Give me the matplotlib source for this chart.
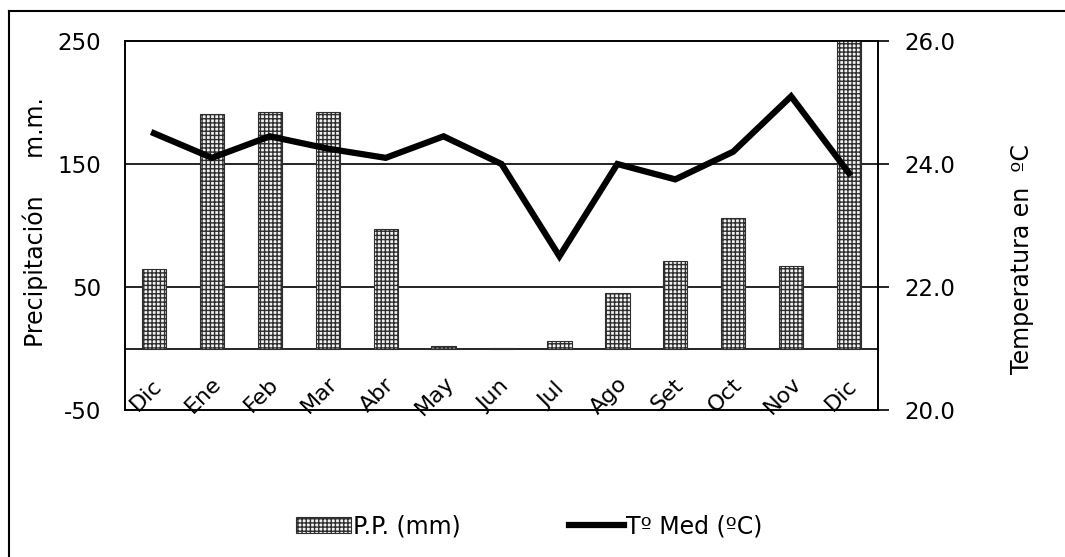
import matplotlib.pyplot as plt
from matplotlib.lines import Line2D
import numpy as np

# Monthly data
months = ['Dic', 'Ene', 'Feb', 'Mar', 'Abr', 'May', 'Jun',
          'Jul', 'Ago', 'Set', 'Oct', 'Nov', 'Dic']
precip = [65, 191, 192, 192, 97, 2, 0.5, 6, 45, 71, 106, 67, 255]
temp = [24.5, 24.1, 24.45, 24.25, 24.1, 24.45, 24.0,
        22.5, 24.0, 23.75, 24.2, 25.1, 23.85]

plt.rcParams['font.family'] = ['DejaVu Sans']
plt.rcParams['axes.unicode_minus'] = False
plt.rcParams['hatch.linewidth'] = 1.0

fig = plt.figure(figsize=(10.65, 5.57), dpi=100)
ax = fig.add_axes([0.1174, 0.2639, 0.7070, 0.6625])
ax2 = ax.twinx()

x = np.arange(len(months))

# Bars (precipitation) on the left axis
ax.bar(x, precip, width=0.42, color='#f2f2f2', edgecolor='#2e2e2e',
       hatch='++++', linewidth=0.8, zorder=3, label='P.P. (mm)')
ax.set_ylim(-50, 250)
ax.set_xlim(-0.5, len(months) - 0.5)
ax.set_yticks([250, 150, 50, -50])
ax.tick_params(axis='y', length=0, labelsize=16.5, pad=17)
ax.set_xticks([])
for v in [150, 50, 0]:
    ax.axhline(v, color='black', linewidth=1.2, zorder=2)
for s in ax.spines.values():
    s.set_linewidth(1.2)

# Month labels inside the plot area, under the zero line
for i, m in enumerate(months):
    ax.text(i - 0.14, -38, m, rotation=45, ha='center', va='center',
            fontsize=16, zorder=5)

# Temperature line on the right axis
ax2.plot(x, temp, color='black', linewidth=4.5, solid_joinstyle='miter',
         zorder=4, label='Tº Med (ºC)')
ax2.set_ylim(20, 26)
ax2.set_yticks([26, 24, 22, 20])
ax2.set_yticklabels(['26.0', '24.0', '22.0', '20.0'])
ax2.tick_params(axis='y', direction='out', length=8, width=1.2,
                labelsize=16.5, pad=11)
for s in ax2.spines.values():
    s.set_linewidth(1.2)

# Axis titles
fig.text(35 / 1065, 1 - 222 / 557, 'Precipitación     m.m.', fontsize=17,
         rotation=90, ha='center', va='center')
fig.text(1022 / 1065, 1 - 259 / 557, 'Temperatura en  ºC', fontsize=17,
         rotation=90, ha='center', va='center')

# Legend under the chart
handles = [ax.patches[0], ax2.lines[0]]
labels = ['P.P. (mm)', 'Tº Med (ºC)']
fig.legend(handles, labels, loc='center', bbox_to_anchor=(0.497, 0.055),
           ncol=2, frameon=False, fontsize=17, handlelength=2.3,
           handletextpad=0.1, columnspacing=4.6)

# Outer frame (left and top edges)
fig.add_artist(Line2D([0.0085, 0.0085], [0, 0.980], color='black',
                      linewidth=1.5, transform=fig.transFigure))
fig.add_artist(Line2D([0.0085, 1.0], [0.980, 0.980], color='black',
                      linewidth=1.5, transform=fig.transFigure))

fig.savefig('out.png', dpi=100)
